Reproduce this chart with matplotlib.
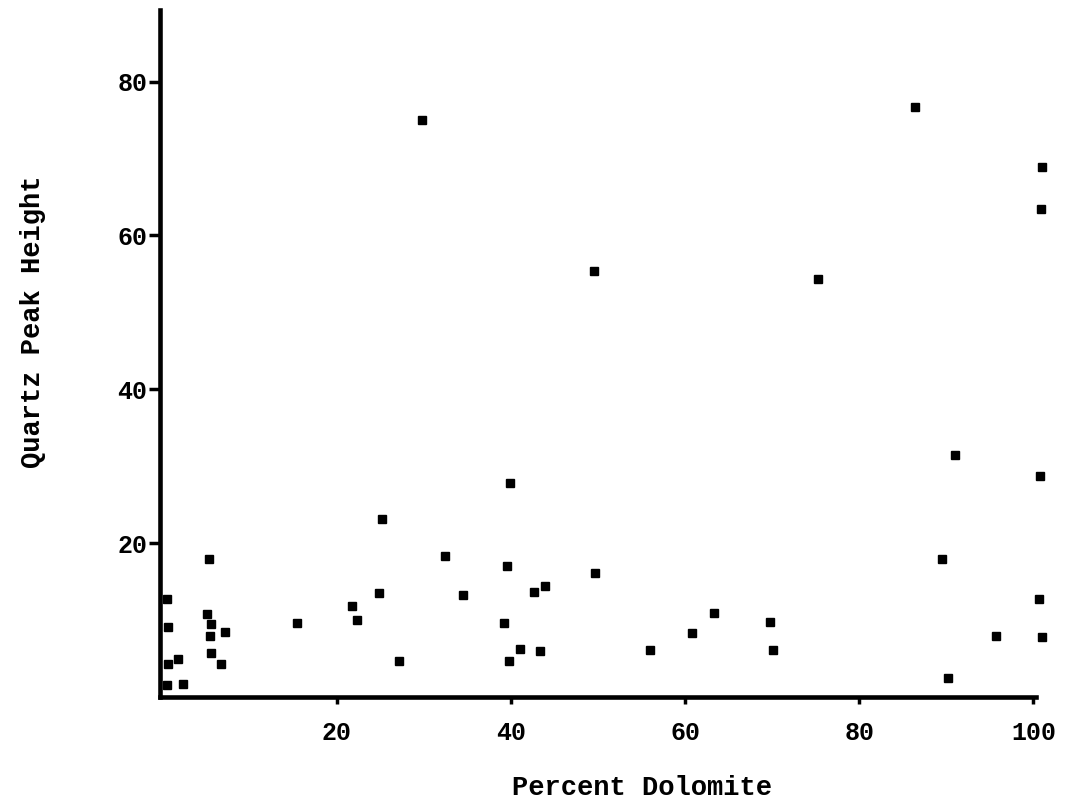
import matplotlib
matplotlib.use("Agg")
import matplotlib.pyplot as plt

# Data
percent_dolomite = [5.3, 24.9, 21.7, 22.3, 15.4, 5.1, 5.6, 7.2, 5.4, 5.6, 6.7, 1.8, 2.3, 27.1,
                    0.5, 0.6, 0.6, 0.5, 32.4, 39.5, 34.5, 42.6, 43.9, 49.7, 39.2, 41.0, 43.3,
                    39.8, 56.0, 60.8, 63.3, 69.8, 70.1, 89.5, 90.2, 95.7, 100.6, 101.0, 29.8,
                    49.5, 86.4, 75.3, 101.0, 100.9, 91.0, 100.7, 39.9, 25.2]
quartz_peak = [18.0, 13.6, 11.8, 10.0, 9.7, 10.8, 9.5, 8.5, 7.9, 5.8, 4.3, 4.9, 1.7, 4.7,
               12.7, 9.1, 4.3, 1.6, 18.3, 17.0, 13.3, 13.7, 14.5, 16.1, 9.6, 6.2, 6.0,
               4.7, 6.1, 8.4, 11.0, 9.8, 6.1, 17.9, 2.5, 8.0, 12.8, 7.8, 75.0,
               55.4, 76.7, 54.3, 68.9, 63.5, 31.5, 28.8, 27.8, 23.1]
x_ticks = [20, 40, 60, 80, 100]
y_ticks = [20, 40, 60, 80]
x_label = "Percent Dolomite"
y_label = "Quartz Peak Height"

font = "Liberation Mono"

fig = plt.figure(figsize=(10.67, 8.06), dpi=100)
ax = fig.add_axes([0.150, 0.135, 0.821, 0.8526])

ax.plot(percent_dolomite, quartz_peak, linestyle="none", marker="s", markersize=6,
        color="black", clip_on=False)

ax.set_xlim(-0.3, 100.3)
ax.set_ylim(0, 89.3)

for s in ["top", "right"]:
    ax.spines[s].set_visible(False)
for s in ["left", "bottom"]:
    ax.spines[s].set_linewidth(3.3)
    ax.spines[s].set_color("black")

ax.set_xticks(x_ticks)
ax.set_yticks(y_ticks)
ax.set_xticklabels([str(v) for v in x_ticks], family=font, fontsize=18, fontweight="bold")
ax.set_yticklabels([str(v) for v in y_ticks], family=font, fontsize=18, fontweight="bold")
ax.tick_params(axis="x", direction="out", length=5, width=2.5, pad=12)
ax.tick_params(axis="y", direction="out", length=8, width=2.5, pad=1)

ax.set_xlabel(x_label, family=font, fontsize=19.5, fontweight="bold")
ax.set_ylabel(y_label, family=font, fontsize=19.5, fontweight="bold")
ax.xaxis.set_label_coords(0.55, -0.113)
ax.yaxis.set_label_coords(-0.130, 0.546)

fig.savefig("out.png", dpi=100, facecolor="white")
